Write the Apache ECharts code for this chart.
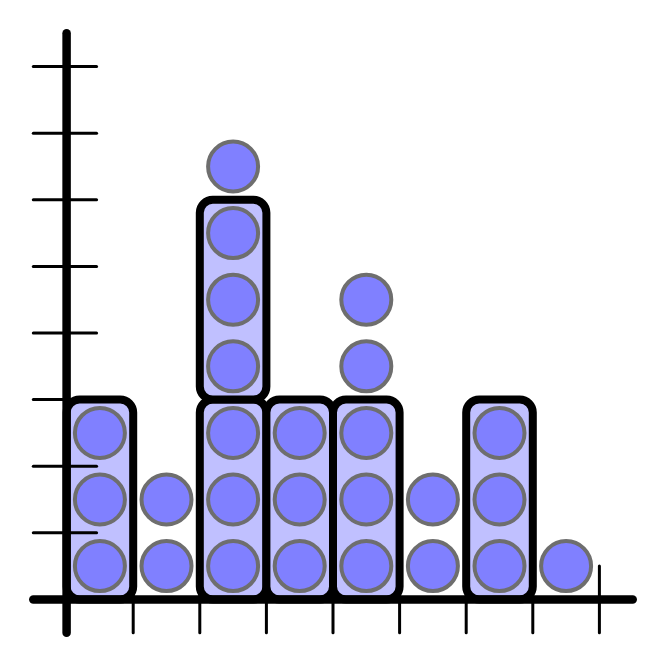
<!DOCTYPE html>
<html>
<head>
<meta charset="utf-8">
<script src="https://cdn.jsdelivr.net/npm/echarts@6/dist/echarts.min.js"></script>
<style>
html,body{margin:0;padding:0;background:#fff;}
#chart{width:666px;height:666px;}
</style>
</head>
<body>
<div id="chart"></div>
<script>
// Column categories (positions 0..7) and counts of items in each column
const categories = [0, 1, 2, 3, 4, 5, 6, 7];
const counts = [3, 2, 7, 3, 5, 2, 3, 1];
const groupSize = 3; // items are tallied in boxed groups of three
// Axis ticks
const xTicks = [1, 2, 3, 4, 5, 6, 7, 8];
const yTicks = [1, 2, 3, 4, 5, 6, 7, 8];
const axisStart = -0.5;
const axisEnd = 8.5;

// Build circle points and boxed groups from the counts
const circles = [];
const boxes = [];
categories.forEach(function (c, i) {
  for (let k = 0; k < counts[i]; k++) circles.push([c + 0.5, k + 0.5]);
  const nb = Math.floor(counts[i] / groupSize);
  for (let b = 0; b < nb; b++) boxes.push([c, b * groupSize, (b + 1) * groupSize]);
});

const chart = echarts.init(document.getElementById('chart'));
chart.setOption({
  animation: false,
  backgroundColor: '#ffffff',
  grid: {left: 0, right: 0, top: 0, bottom: 0},
  xAxis: {type: 'value', min: -1, max: 9, show: false},
  yAxis: {type: 'value', min: -1, max: 9, show: false},
  series: [
    {
      type: 'custom',
      z: 1,
      clip: false,
      data: boxes,
      renderItem: function (params, api) {
        const x = api.value(0), y0 = api.value(1), y1 = api.value(2);
        const p0 = api.coord([x, y1]);
        const p1 = api.coord([x + 1, y0]);
        return {
          type: 'rect',
          shape: {x: p0[0], y: p0[1], width: p1[0] - p0[0], height: p1[1] - p0[1], r: 13},
          style: {fill: '#c0c0ff', stroke: '#000000', lineWidth: 8}
        };
      }
    },
    {
      type: 'custom',
      z: 2,
      clip: false,
      data: [[0, 0]],
      renderItem: function (params, api) {
        const children = [];
        const axisStyle = {stroke: '#000000', lineWidth: 8.5, lineCap: 'round'};
        const tickStyle = {stroke: '#000000', lineWidth: 3, lineCap: 'round'};
        function seg(a, b, st) {
          const p = api.coord(a), q = api.coord(b);
          children.push({type: 'line', shape: {x1: p[0], y1: p[1], x2: q[0], y2: q[1]}, style: st});
        }
        yTicks.forEach(function (t) { seg([axisStart, t], [0.45, t], tickStyle); });
        xTicks.forEach(function (t) { seg([t, axisStart], [t, 0.5], tickStyle); });
        seg([0, axisStart], [0, axisEnd], axisStyle);
        seg([axisStart, 0], [axisEnd, 0], axisStyle);
        return {type: 'group', children: children};
      }
    },
    {
      type: 'scatter',
      z: 3,
      symbol: 'circle',
      symbolSize: 50,
      data: circles,
      itemStyle: {color: '#8080ff', borderColor: '#6e6e6e', borderWidth: 4, opacity: 1},
      emphasis: {disabled: true}
    }
  ]
});
</script>
</body>
</html>
